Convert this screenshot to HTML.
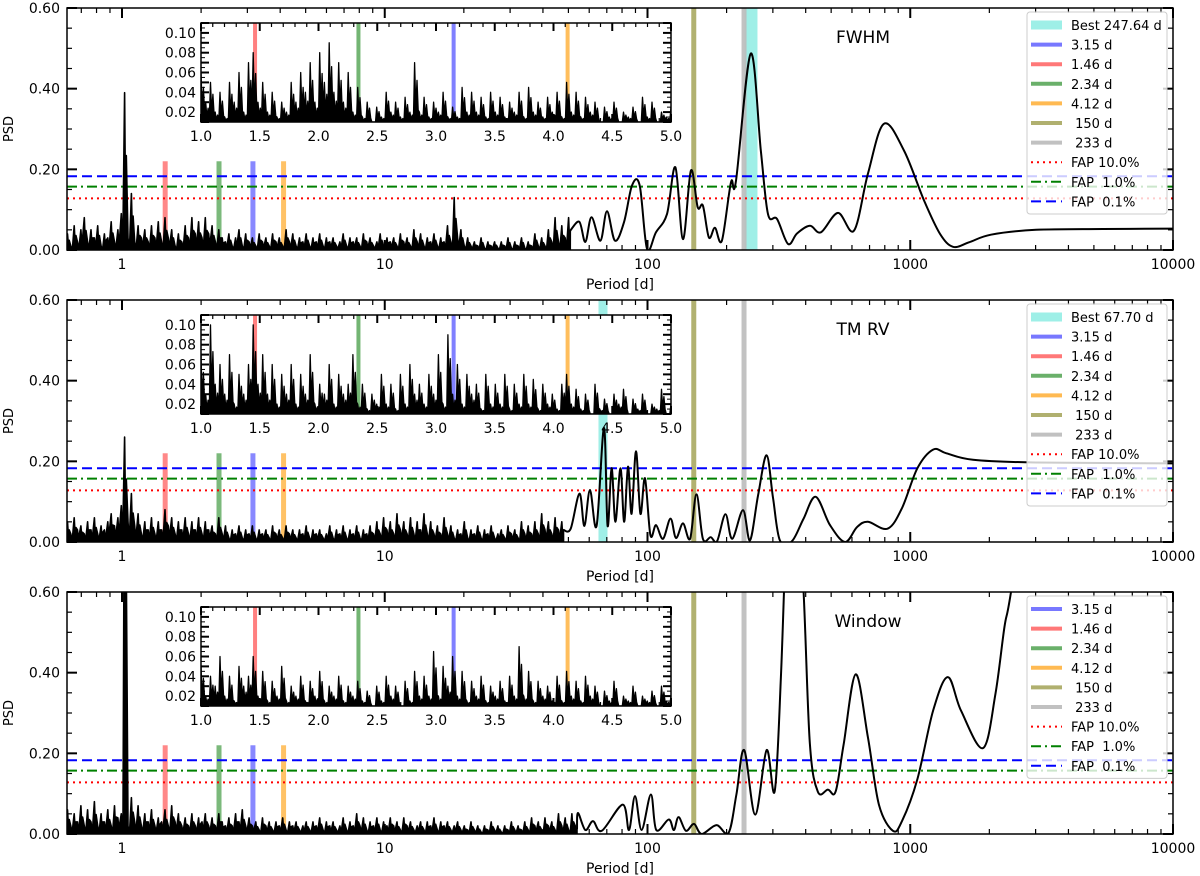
<!DOCTYPE html>
<html><head><meta charset="utf-8"><style>
body{margin:0;background:#fff}
svg{display:block;font-family:"DejaVu Sans","Liberation Sans",sans-serif}
</style></head><body>
<svg id="chart" width="1200" height="876" viewBox="0 0 1200 876"></svg>
<script>
// ---------- DATA ----------
const panelTitles = ["FWHM", "TM RV", "Window"];
const bestPeriods = [247.64, 67.70, null];
const markPeriods = [3.15, 1.46, 2.34, 4.12];
const fullPeriods = [150, 233];
const fapLevels = [0.128, 0.157, 0.183];
const yTickLabels = ["0.00", "0.20", "0.40", "0.60"];
const xTickLabels = ["1", "10", "100", "1000", "10000"];
const insetXTickLabels = ["1.0","1.5","2.0","2.5","3.0","3.5","4.0","4.5","5.0"];
const insetYTickLabels = ["0.02","0.04","0.06","0.08","0.10"];
const noiseStart = 0.62, noiseStep = 0.0128;

const noise1 = [.04,.01,.06,.02,.05,.08,.02,.05,.03,.06,.01,.04,.03,.07,.02,.05,.09,
.39,.03,.14,.02,.06,.03,.05,.02,.06,.03,.07,.02,.08,.03,.05,.01,.04,.02,.06,.03,.08,.04,.07,.03,.08,.04,.06,.02,.05,.03,.02,.04,.01,.03,.05,.01,.04,.02,.03,.01,.04,.02,.03,.01,.04,.02,.03,.01,.05,.02,.04,.01,.03,.02,.04,.01,.03,.02,.04,.01,.03,.02,.03,.01,.02,.04,.01,.03,.02,.03,.01,.04,.02,.03,.01,.02,.04,.01,.03,.02,.03,.01,.04,.02,.03,.01,.05,.02,.04,.01,.03,.02,.04,.01,.03,.02,.06,.02,.13,.03,.05,.01,.03,.01,.02,.01,.03,.005,.02,.01,.02,.005,.02,.01,.03,.005,.02,.01,.03,.005,.02,.01,.04,.01,.03,.01,.05,.02,.08,.02,.06,.03,.08];
const noise2 = [.05,.02,.06,.03,.04,.02,.05,.03,.06,.02,.04,.03,.05,.07,.04,.06,.09,
.26,.05,.12,.04,.07,.02,.05,.03,.06,.02,.05,.03,.08,.04,.06,.02,.05,.03,.06,.02,.05,.03,.06,.02,.05,.03,.04,.02,.06,.02,.04,.01,.03,.02,.04,.01,.03,.02,.04,.01,.03,.02,.03,.01,.04,.02,.03,.01,.04,.02,.03,.01,.03,.02,.04,.01,.03,.02,.03,.01,.02,.04,.01,.03,.02,.04,.01,.03,.02,.04,.01,.03,.02,.04,.02,.05,.02,.06,.03,.05,.02,.07,.03,.05,.02,.06,.02,.05,.03,.07,.02,.05,.02,.04,.02,.06,.02,.04,.01,.03,.02,.05,.01,.03,.02,.04,.01,.03,.02,.04,.01,.02,.03,.01,.04,.02,.03,.01,.05,.02,.04,.02,.05,.02,.07,.03,.05,.02,.06,.03,.05];
const noise3 = [.06,.02,.05,.03,.07,.02,.06,.03,.08,.02,.05,.03,.06,.02,.07,.04,.05,
1.1,.02,.09,.03,.07,.02,.05,.03,.06,.02,.04,.03,.06,.02,.07,.03,.05,.02,.04,.02,.05,.02,.04,.03,.05,.02,.04,.02,.05,.03,.02,.04,.02,.05,.03,.06,.02,.04,.02,.03,.01,.04,.02,.03,.01,.03,.02,.04,.01,.03,.02,.03,.01,.02,.03,.01,.03,.02,.04,.01,.03,.02,.03,.01,.02,.04,.01,.03,.02,.05,.02,.04,.01,.03,.02,.04,.01,.03,.02,.04,.02,.03,.01,.04,.02,.03,.01,.02,.03,.01,.03,.02,.04,.01,.03,.02,.03,.01,.02,.03,.01,.02,.01,.03,.01,.02,.005,.02,.01,.03,.01,.02,.005,.02,.01,.03,.01,.02,.01,.03,.01,.04,.02,.03,.01,.04,.02,.03,.01,.05,.02,.04,.01,.05,.02];

const smoothP1 = [55,58,61.2,66.2,70.1,75.2,81.4,87.3,93.4,99.6,107.7,118.6,127.7,136.5,146.3,155.3,162.5,171.3,180.6,191.9,207.8,217,247,270,287.5,311,342.6,370.7,415,457,531,611,690,794,946,1128,1298,1455,1674,2028,3013,5417,10000];
const smoothV1 = [.07,.02,.081,.023,.096,.023,.069,.16,.16,.003,.044,.089,.205,.027,.197,.106,.11,.031,.055,.023,.168,.17,.487,.247,.089,.077,.015,.041,.06,.044,.092,.048,.189,.313,.247,.123,.04,.008,.019,.038,.05,.052,.053];
const smoothP2 = [51,55.1,57.5,60.4,64,68.3,70.5,73,75.5,78.9,81.5,84.3,87,90.4,94,97.8,102.6,107.7,114.5,122.3,128.4,136.5,145.2,153.6,162.5,174,184,198,210,231,245.5,263.6,284,300.5,319,354.5,392.6,436.5,495,565,627,690,819,929,1065,1222,1373,1733,3001,10000];
const smoothV2 = [.033,.12,.04,.129,.04,.283,.04,.183,.05,.183,.05,.187,.07,.225,.07,.158,.017,.042,.008,.058,.01,.046,.008,.118,.008,.012,.002,.069,.008,.079,.004,.116,.215,.108,.004,.002,.058,.112,.042,0,.037,.05,.033,.083,.183,.229,.22,.204,.197,.195];
const smoothP3 = [54.4,58,62,67,80.5,85,89.6,95,103,108,120.5,126,131.3,140,150.3,160.8,183,203.5,218,233.3,257,284,304.8,322,340,363,392.6,415,444.6,486,520,558,620,690,760,859,930,1065,1222,1390,1560,1892,2110,2284,2417,3000,10000];
const smoothV3 = [.052,.01,.032,.008,.073,.01,.094,.01,.098,.01,.036,.01,.042,.008,.025,0,.022,.003,.098,.208,.048,.208,.106,.389,.8,1.0,.6,.223,.105,.11,.105,.223,.396,.24,.073,.008,.032,.136,.306,.389,.306,.213,.348,.514,.6,1.0,1.5];

const inset1 = [.06,.03,.05,.02,.04,.015,.05,.03,.06,.02,.07,.08,.03,.05,.02,.04,.015,.03,.02,.05,.03,.06,.04,.07,.03,.08,.05,.09,.04,.07,.03,.06,.02,.045,.015,.03,.01,.025,.015,.04,.02,.03,.015,.035,.02,.07,.02,.035,.015,.03,.02,.04,.015,.025,.015,.045,.02,.04,.02,.035,.015,.04,.02,.035,.015,.03,.02,.04,.015,.045,.02,.03,.015,.035,.02,.04,.015,.05,.02,.04,.015,.035,.02,.03,.01,.025,.015,.03,.01,.02,.015,.025,.01,.035,.015,.03,.01,.02,.015,.025];
const inset2 = [.07,.03,.1,.04,.06,.03,.07,.02,.05,.03,.06,.1,.04,.07,.03,.06,.02,.05,.03,.06,.02,.05,.03,.07,.02,.04,.03,.06,.02,.05,.03,.04,.07,.02,.04,.015,.03,.02,.05,.02,.04,.015,.05,.02,.06,.03,.04,.02,.05,.03,.07,.02,.09,.03,.06,.02,.05,.03,.04,.015,.05,.02,.04,.02,.05,.015,.04,.02,.05,.02,.045,.015,.04,.02,.03,.015,.04,.05,.02,.035,.015,.03,.01,.04,.015,.025,.01,.03,.02,.035,.01,.025,.015,.03,.01,.02,.015,.035,.01,.02];
const inset3 = [.05,.02,.04,.03,.06,.02,.04,.015,.05,.03,.04,.06,.02,.045,.015,.035,.02,.05,.015,.03,.02,.04,.015,.035,.02,.045,.015,.03,.02,.04,.015,.03,.02,.035,.015,.025,.01,.03,.015,.04,.02,.03,.01,.035,.015,.045,.02,.04,.02,.065,.02,.05,.03,.06,.02,.045,.015,.035,.02,.04,.015,.03,.02,.035,.015,.04,.02,.07,.02,.045,.015,.035,.02,.03,.015,.04,.015,.045,.02,.035,.015,.04,.02,.03,.01,.025,.015,.035,.01,.02,.015,.03,.01,.02,.015,.025,.01,.03,.015,.02];

const noiseSets = [noise1, noise2, noise3];
const smoothPs = [smoothP1, smoothP2, smoothP3];
const smoothVs = [smoothV1, smoothV2, smoothV3];
const insetSets = [inset1, inset2, inset3];

// ---------- LAYOUT ----------
const NS = "http://www.w3.org/2000/svg";
const svg = document.getElementById("chart");
const L = 67, R = 1173, PH = 242, TOPS = [8, 300, 592];
const X = p => 122 + Math.log10(p) * 262.75;
const I = {l: 201, r: 671, dt: 15, db: 114};
const markColors = ["#6a6aff", "#ff6a6a", "#5aa85a", "#ffb340"];
const fullColors = ["#a8a860", "#bbbbbb"];

function mk(tag, attrs, parent, text) {
  const e = document.createElementNS(NS, tag);
  for (const k in attrs) e.setAttribute(k, attrs[k]);
  if (text !== undefined) e.textContent = text;
  (parent || svg).appendChild(e);
  return e;
}
function catmull(pts) {
  let d = "";
  for (let i = 0; i < pts.length - 1; i++) {
    const p0 = pts[i - 1] || pts[i], p1 = pts[i], p2 = pts[i + 1], p3 = pts[i + 2] || p2;
    const c1x = p1[0] + (p2[0] - p0[0]) / 6, c1y = p1[1] + (p2[1] - p0[1]) / 6;
    const c2x = p2[0] - (p3[0] - p1[0]) / 6, c2y = p2[1] - (p3[1] - p1[1]) / 6;
    d += ` C${c1x.toFixed(1)},${c1y.toFixed(1)} ${c2x.toFixed(1)},${c2y.toFixed(1)} ${p2[0].toFixed(1)},${p2[1].toFixed(1)}`;
  }
  return d;
}

const defs = mk("defs", {});
TOPS.forEach((T, k) => {
  const cp = mk("clipPath", {id: "clip" + k}, defs);
  mk("rect", {x: L, y: T, width: R - L, height: PH}, cp);
  const ci = mk("clipPath", {id: "iclip" + k}, defs);
  mk("rect", {x: I.l, y: T + I.dt, width: I.r - I.l, height: I.db - I.dt}, ci);
});

TOPS.forEach((T, k) => {
  const B = T + PH;
  const Y = v => B - v * (PH / 0.6);
  const g = mk("g", {}, svg);
  
  
  const plot = mk("g", {"clip-path": `url(#clip${k})`}, g);

  if (bestPeriods[k]) {
    const w = k === 0 ? 13 : 9;
    const r = mk("rect", {x: X(bestPeriods[k]) - w / 2, y: T, width: w, height: PH, fill: "#40e0d0", opacity: 0.5}, plot);
    
    
  }
  fullPeriods.forEach((p, j) => {
    const r = mk("rect", {x: X(p) - 2.5, y: T, width: 5, height: PH, fill: fullColors[j], opacity: 0.9}, plot);
    
    
  });
  markPeriods.forEach((p, j) => {
    const r = mk("rect", {x: X(p) - 2.5, y: Y(0.22), width: 5, height: Y(0) - Y(0.22), fill: markColors[j], opacity: 0.8}, plot);
    
    
  });
  const fapStyles = [{c: "#ff0000", d: "2,4"}, {c: "#008000", d: "10,4,2,4"}, {c: "#0000ff", d: "10,5"}];
  fapLevels.forEach((v, j) => {
    const ln = mk("line", {x1: L, x2: R, y1: Y(v), y2: Y(v), stroke: fapStyles[j].c, "stroke-width": 2, "stroke-dasharray": fapStyles[j].d}, plot);
    
    
  });
  const noise = noiseSets[k];
  let d = "";
  let x0 = X(noiseStart);
  noise.forEach((v, i) => {
    const p = noiseStart * Math.pow(10, i * noiseStep);
    const x = X(p);
    d += (i ? " L" : "M") + x.toFixed(1) + "," + Y(v).toFixed(1);
    d += " L" + (x + 0.9).toFixed(1) + "," + Y(v * 0.3).toFixed(1);
    d += " L" + (x + 1.7).toFixed(1) + "," + Y(v * 0.6).toFixed(1);
  });
  const lastP = noiseStart * Math.pow(10, (noise.length - 1) * noiseStep);
  const nf = mk("path", {d: d + ` L${X(lastP) + 1.7},${B} L${x0},${B} Z`, fill: "#000", stroke: "#000", "stroke-width": 1.6, "stroke-linejoin": "round"}, plot);
  
  
  const pts = [[X(lastP) + 1.7, Y(noise[noise.length - 1] * 0.6)]];
  smoothPs[k].forEach((p, i) => pts.push([X(p), Y(smoothVs[k][i])]));
  const curve = mk("path", {d: `M${pts[0][0]},${pts[0][1]}` + catmull(pts), fill: "none", stroke: "#000", "stroke-width": 2, "stroke-linejoin": "round"}, plot);
  
  

  mk("rect", {x: L, y: T, width: R - L, height: PH, fill: "none", stroke: "#000", "stroke-width": 1.5}, g);
  for (let e = -1; e <= 4; e++) for (let m = 1; m <= 9; m++) {
    const p = m * Math.pow(10, e);
    if (p < 0.62 || p > 10000) continue;
    const x = X(p), len = m === 1 ? 10 : 5, w = m === 1 ? 2 : 1.2;
    mk("line", {x1: x, x2: x, y1: B, y2: B - len, stroke: "#000", "stroke-width": w}, g);
    mk("line", {x1: x, x2: x, y1: T, y2: T + len, stroke: "#000", "stroke-width": w}, g);
  }
  xTickLabels.forEach((t, i) => {
    const tx = mk("text", {x: X(Math.pow(10, i)), y: B + 19, "font-size": 14, "text-anchor": "middle"}, g, t);
    
    
  });
  const xl = mk("text", {x: 620, y: B + 39, "font-size": 14, "text-anchor": "middle"}, g, "Period [d]");
  
  
  for (let i = 0; i <= 12; i++) {
    const y = Y(i * 0.05), major = i % 4 === 0, len = major ? 10 : 5;
    mk("line", {x1: L, x2: L + len, y1: y, y2: y, stroke: "#000", "stroke-width": major ? 2 : 1.2}, g);
    mk("line", {x1: R, x2: R - len, y1: y, y2: y, stroke: "#000", "stroke-width": major ? 2 : 1.2}, g);
  }
  yTickLabels.forEach((t, i) => {
    const ty = mk("text", {x: 60, y: Y(i * 0.2) + 5, "font-size": 14, "text-anchor": "end"}, g, t);
    
    
  });
  const yl = mk("text", {x: 13, y: T + PH / 2, "font-size": 13, "text-anchor": "middle", transform: `rotate(-90 13 ${T + PH / 2})`}, g, "PSD");
  
  

  const tt = mk("text", {x: k === 2 ? 868 : 863, y: T + 35, "font-size": 17, "text-anchor": "middle"}, g, panelTitles[k]);
  
  

  // ---------- inset ----------
  const it = T + I.dt, ib = T + I.db;
  const IX = p => I.l + (p - 1) / 4 * (I.r - I.l);
  const IY = v => ib - (v - 0.01) / 0.1 * (ib - it);
  const ig = mk("g", {}, g);
  
  
  mk("rect", {x: I.l, y: it, width: I.r - I.l, height: I.db - I.dt, fill: "#fff"}, ig);
  const iplot = mk("g", {"clip-path": `url(#iclip${k})`}, ig);
  markPeriods.forEach((p, j) => {
    mk("rect", {x: IX(p) - 2, y: it, width: 4, height: ib - it, fill: markColors[j], opacity: 0.85}, iplot);
  });
  const ins = insetSets[k];
  let id = "";
  const dx = (I.r - I.l) / (ins.length - 1);
  ins.forEach((v, i) => {
    const x = IX(1 + i * 4 / (ins.length - 1));
    id += (i ? " L" : "M") + x.toFixed(1) + "," + IY(v).toFixed(1);
    id += " L" + (x + dx * 0.25).toFixed(1) + "," + IY(0.01 + (v - 0.01) * 0.25).toFixed(1);
    id += " L" + (x + dx * 0.5).toFixed(1) + "," + IY(0.01 + (v - 0.01) * 0.7).toFixed(1);
    id += " L" + (x + dx * 0.75).toFixed(1) + "," + IY(0.01 + (v - 0.01) * 0.2).toFixed(1);
  });
  const ic = mk("path", {d: id + ` L${I.r},${ib} L${I.l},${ib} Z`, fill: "#000", stroke: "#000", "stroke-width": 1.3, "stroke-linejoin": "round"}, iplot);
  
  
  mk("rect", {x: I.l, y: it, width: I.r - I.l, height: I.db - I.dt, fill: "none", stroke: "#000", "stroke-width": 1.5}, ig);
  for (let i = 0; i <= 40; i++) {
    const x = IX(1 + i * 0.1), major = i % 5 === 0, len = major ? 8 : 4;
    mk("line", {x1: x, x2: x, y1: ib, y2: ib - len, stroke: "#000", "stroke-width": major ? 2 : 1.2}, ig);
    mk("line", {x1: x, x2: x, y1: it, y2: it + len, stroke: "#000", "stroke-width": major ? 2 : 1.2}, ig);
  }
  insetXTickLabels.forEach((t, i) => {
    mk("text", {x: IX(1 + i * 0.5), y: ib + 19, "font-size": 14, "text-anchor": "middle"}, ig, t);
  });
  for (let i = 0; i <= 20; i++) {
    const y = IY(0.01 + i * 0.005), major = i % 2 === 0, len = major ? 8 : 4;
    mk("line", {x1: I.l, x2: I.l + len, y1: y, y2: y, stroke: "#000", "stroke-width": major ? 2 : 1}, ig);
    mk("line", {x1: I.r, x2: I.r - len, y1: y, y2: y, stroke: "#000", "stroke-width": major ? 2 : 1}, ig);
  }
  insetYTickLabels.forEach((t, i) => {
    mk("text", {x: I.l - 5, y: IY(0.02 + i * 0.02) + 5, "font-size": 14, "text-anchor": "end"}, ig, t);
  });

  // ---------- legend ----------
  const entries = [];
  if (bestPeriods[k]) entries.push({t: "Best " + bestPeriods[k].toFixed(2) + " d", c: "#40e0d0", o: 0.5, w: 9});
  markPeriods.forEach((p, j) => entries.push({t: p.toFixed(2) + " d", c: markColors[j], o: 0.9, w: 4}));
  fullPeriods.forEach((p, j) => entries.push({t: "\u00a0" + p + " d", c: fullColors[j], o: 0.9, w: 4}));
  entries.push({t: "FAP 10.0%", c: "#ff0000", dash: "2,4", w: 2});
  entries.push({t: "FAP \u00a01.0%", c: "#008000", dash: "10,4,2,4", w: 2});
  entries.push({t: "FAP \u00a00.1%", c: "#0000ff", dash: "10,5", w: 2});
  const lg = mk("g", {}, g);
  
  
  const ly = T + 4, step = 19.6;
  mk("rect", {x: 1027, y: ly, width: 140, height: entries.length * step + 6, rx: 3, fill: "rgba(255,255,255,0.8)", stroke: "#ccc"}, lg);
  entries.forEach((en, i) => {
    const y = ly + 13 + i * step;
    const a = {x1: 1031, x2: 1062, y1: y, y2: y, stroke: en.c, "stroke-width": en.w};
    if (en.o) a.opacity = en.o;
    if (en.dash) a["stroke-dasharray"] = en.dash;
    const e = mk("g", {}, lg);
    
    
    mk("line", a, e);
    mk("text", {x: 1071, y: y + 5, "font-size": 13}, e, en.t);
  });
});
</script>
</body></html>
